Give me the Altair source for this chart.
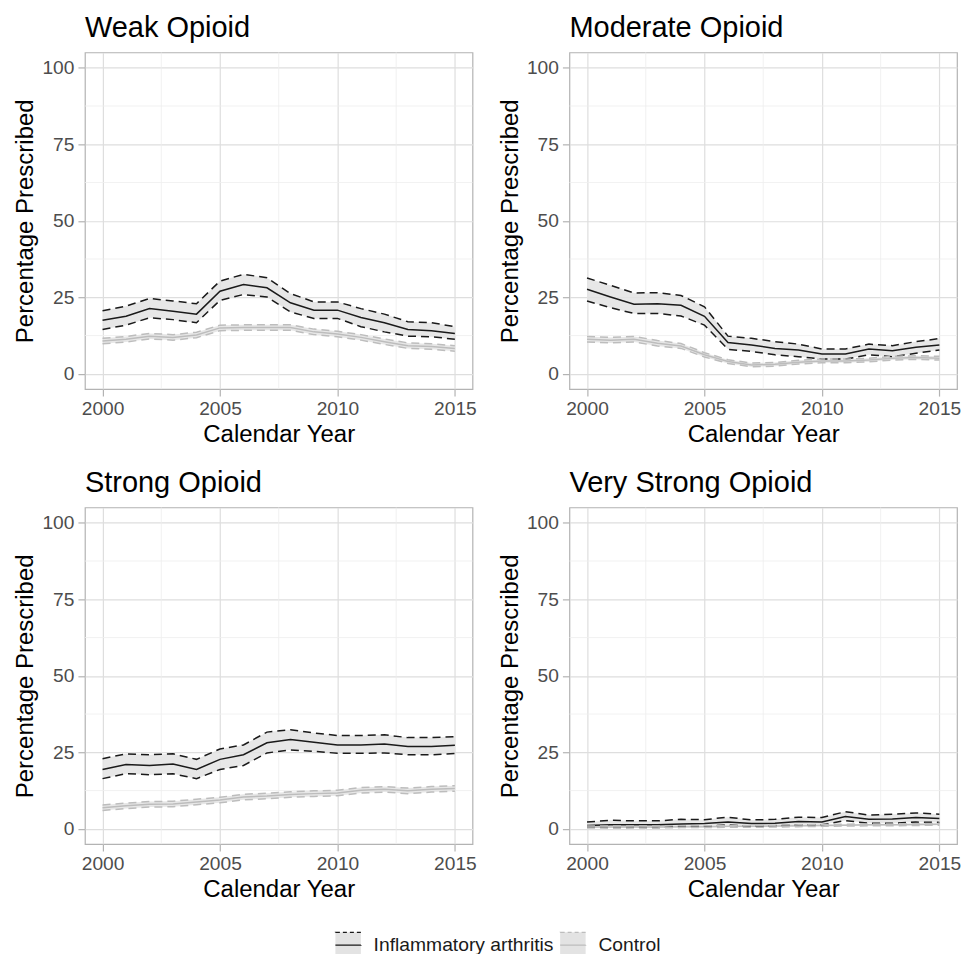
import altair as alt
import pandas as pd

YEARS = list(range(2000, 2016))
PANELS = ["Weak Opioid", "Moderate Opioid", "Strong Opioid", "Very Strong Opioid"]
GROUPS = ["Inflammatory arthritis", "Control"]
X_TICKS = [2000, 2005, 2010, 2015]
Y_TICKS = [0, 25, 50, 75, 100]
X_MINOR = [2002.5, 2007.5, 2012.5]
Y_MINOR = [12.5, 37.5, 62.5, 87.5]

# Weak opioid
ia_weak_mean = [17.5, 18.8, 21.3, 20.4, 19.5, 27.0, 29.2, 28.1, 23.2, 20.8, 20.8, 18.4, 16.7, 14.5, 14.1, 13.2]
ia_weak_hi = [20.6, 22.1, 24.6, 23.8, 22.9, 30.3, 32.5, 31.4, 26.2, 23.5, 23.5, 21.3, 19.5, 17.0, 16.7, 15.4]
ia_weak_lo = [14.5, 15.9, 18.3, 17.7, 16.7, 24.0, 25.9, 25.1, 20.2, 18.1, 18.1, 15.4, 13.7, 12.3, 12.1, 11.3]
ct_weak_mean = [10.7, 11.3, 12.3, 11.9, 12.7, 15.0, 15.1, 15.1, 15.1, 13.7, 13.0, 11.9, 10.5, 9.2, 8.9, 8.3]
ct_weak_hi = [11.6, 12.2, 13.2, 12.8, 13.6, 15.9, 16.0, 16.0, 16.0, 14.6, 13.9, 12.8, 11.4, 10.1, 9.8, 9.2]
ct_weak_lo = [9.8, 10.4, 11.4, 11.0, 11.8, 14.1, 14.2, 14.2, 14.2, 12.8, 12.1, 11.0, 9.6, 8.3, 8.0, 7.4]

# Moderate opioid
ia_mod_mean = [27.6, 25.1, 22.7, 22.9, 22.4, 18.8, 10.2, 9.4, 8.3, 7.8, 6.5, 6.5, 8.1, 7.5, 8.7, 9.4]
ia_mod_hi = [31.3, 28.9, 26.4, 26.5, 25.6, 21.9, 12.3, 11.6, 10.5, 9.7, 8.1, 8.1, 9.7, 9.2, 10.5, 11.5]
ia_mod_lo = [23.8, 21.6, 19.7, 19.7, 18.9, 15.9, 8.0, 7.3, 6.2, 5.6, 4.8, 4.8, 6.2, 5.6, 6.7, 7.8]
ct_mod_mean = [11.3, 11.0, 11.3, 10.0, 9.1, 6.2, 4.0, 2.9, 3.1, 3.8, 4.2, 4.2, 4.5, 5.1, 5.3, 5.1]
ct_mod_hi = [12.2, 11.9, 12.2, 10.9, 9.9, 6.9, 4.6, 3.5, 3.7, 4.4, 4.8, 4.8, 5.1, 5.7, 5.9, 5.7]
ct_mod_lo = [10.4, 10.1, 10.4, 9.1, 8.3, 5.5, 3.4, 2.3, 2.5, 3.2, 3.6, 3.6, 3.9, 4.5, 4.7, 4.5]

# Strong opioid
ia_str_mean = [19.4, 21.0, 20.7, 21.2, 19.4, 22.7, 24.2, 28.1, 29.2, 28.3, 27.4, 27.4, 27.7, 26.9, 26.9, 27.3]
ia_str_hi = [22.9, 24.5, 24.2, 24.5, 22.7, 26.1, 27.4, 31.6, 32.4, 31.3, 30.5, 30.5, 30.7, 29.8, 29.8, 30.1]
ia_str_lo = [16.4, 18.0, 17.7, 18.0, 16.4, 19.4, 20.7, 24.8, 25.8, 25.3, 24.7, 24.7, 24.8, 24.2, 24.2, 24.6]
ct_str_mean = [6.9, 7.5, 8.0, 8.1, 8.8, 9.4, 10.4, 10.7, 11.2, 11.5, 11.7, 12.6, 12.9, 12.4, 12.9, 13.2]
ct_str_hi = [7.8, 8.4, 8.9, 9.0, 9.7, 10.3, 11.3, 11.6, 12.1, 12.4, 12.6, 13.5, 13.8, 13.3, 13.8, 14.1]
ct_str_lo = [6.0, 6.6, 7.1, 7.2, 7.9, 8.5, 9.5, 9.8, 10.3, 10.6, 10.8, 11.7, 12.0, 11.5, 12.0, 12.3]

# Very strong opioid
ia_vs_mean = [1.1, 1.3, 1.3, 1.3, 1.6, 1.7, 2.2, 1.7, 1.8, 2.4, 2.2, 4.0, 3.1, 3.2, 3.7, 3.4]
ia_vs_hi = [2.2, 2.8, 2.6, 2.6, 3.1, 3.0, 3.8, 2.9, 3.1, 3.8, 3.7, 5.6, 4.5, 4.8, 5.2, 4.8]
ia_vs_lo = [0.6, 0.4, 0.5, 0.4, 0.8, 0.8, 1.3, 0.8, 1.0, 1.3, 1.3, 2.7, 1.8, 1.8, 2.2, 2.1]
ct_vs_mean = [0.6, 0.6, 0.6, 0.6, 0.7, 0.7, 0.8, 0.8, 0.9, 1.0, 1.1, 1.2, 1.3, 1.3, 1.4, 1.5]
ct_vs_hi = [0.9, 0.9, 0.9, 0.9, 1.0, 1.0, 1.1, 1.1, 1.2, 1.3, 1.4, 1.5, 1.6, 1.6, 1.7, 1.8]
ct_vs_lo = [0.3, 0.3, 0.3, 0.3, 0.4, 0.4, 0.5, 0.5, 0.6, 0.7, 0.8, 0.9, 1.0, 1.0, 1.1, 1.2]

series = {
    ("Weak Opioid", "Inflammatory arthritis"): (ia_weak_mean, ia_weak_lo, ia_weak_hi),
    ("Weak Opioid", "Control"): (ct_weak_mean, ct_weak_lo, ct_weak_hi),
    ("Moderate Opioid", "Inflammatory arthritis"): (ia_mod_mean, ia_mod_lo, ia_mod_hi),
    ("Moderate Opioid", "Control"): (ct_mod_mean, ct_mod_lo, ct_mod_hi),
    ("Strong Opioid", "Inflammatory arthritis"): (ia_str_mean, ia_str_lo, ia_str_hi),
    ("Strong Opioid", "Control"): (ct_str_mean, ct_str_lo, ct_str_hi),
    ("Very Strong Opioid", "Inflammatory arthritis"): (ia_vs_mean, ia_vs_lo, ia_vs_hi),
    ("Very Strong Opioid", "Control"): (ct_vs_mean, ct_vs_lo, ct_vs_hi),
}

rows = []
for (panel_name, group), (m, lo, hi) in series.items():
    for yr, a, b, c in zip(YEARS, m, lo, hi):
        rows.append(dict(panel=panel_name, group=group, year=yr, mean=a, lo=b, hi=c))
df = pd.DataFrame(rows)

FONT = "Liberation Sans"
W, H = 388, 337

xscale = alt.Scale(domain=[1999.25, 2015.75], nice=False, zero=False)
yscale = alt.Scale(domain=[-5, 105], nice=False, zero=False)
fill_scale = alt.Scale(domain=GROUPS, range=["#e3e3e3", "#e3e3e3"])
stroke_scale = alt.Scale(domain=GROUPS, range=["#1a1a1a", "#bdbdbd"])

# key drawn as one subpath: solid middle line, dashed top and bottom edges
KEY_PATH = "M-1,0H1V-1H-1V1H1V0"
KEY_DASH = [25.5, 12.75, 4, 3, 4, 3, 4, 3, 4.5, 25.5, 4, 3, 4, 3, 4, 3, 4.5, 112.75]

legend = alt.Legend(
    title=None, orient="none", legendX=250, legendY=880, direction="horizontal",
    symbolType=KEY_PATH, symbolSize=650, symbolStrokeWidth=1.3,
    symbolDash=KEY_DASH, symbolOpacity=1, labelFontSize=19.3, labelFont=FONT,
    labelColor="#1a1a1a", labelLimit=400, labelOffset=12, columnPadding=4,
)

xaxis = alt.Axis(values=X_TICKS, format="d", title="Calendar Year")
yaxis = alt.Axis(values=Y_TICKS, title="Percentage Prescribed")


def panel(name):
    d = df[df.panel == name]
    base = alt.Chart(d)
    x = alt.X("year:Q", scale=xscale, axis=xaxis)
    xminor = alt.Chart(pd.DataFrame({"v": X_MINOR})).mark_rule(
        stroke="#ededed", strokeWidth=0.8
    ).encode(x=alt.X("v:Q", scale=xscale, axis=xaxis))
    yminor = alt.Chart(pd.DataFrame({"v": Y_MINOR})).mark_rule(
        stroke="#ededed", strokeWidth=0.8
    ).encode(y=alt.Y("v:Q", scale=yscale, axis=yaxis))
    ribbon = base.mark_area(opacity=0.85).encode(
        x=x,
        y=alt.Y("lo:Q", scale=yscale, axis=yaxis),
        y2="hi:Q",
        fill=alt.Fill("group:N", scale=fill_scale, legend=legend),
    )
    mean = base.mark_line(strokeWidth=1.5).encode(
        x=x, y=alt.Y("mean:Q", scale=yscale, axis=yaxis),
        stroke=alt.Stroke("group:N", scale=stroke_scale, legend=legend),
    )
    lo = base.mark_line(strokeWidth=1.5, strokeDash=[8, 5]).encode(
        x=x, y=alt.Y("lo:Q", scale=yscale, axis=yaxis),
        stroke=alt.Stroke("group:N", scale=stroke_scale, legend=legend),
    )
    hi = base.mark_line(strokeWidth=1.5, strokeDash=[8, 5]).encode(
        x=x, y=alt.Y("hi:Q", scale=yscale, axis=yaxis),
        stroke=alt.Stroke("group:N", scale=stroke_scale, legend=legend),
    )
    return alt.layer(xminor, yminor, ribbon, mean, lo, hi).properties(
        width=W, height=H,
        title=alt.TitleParams(name, anchor="start", frame="group", offset=9),
    )


top = alt.hconcat(panel(PANELS[0]), panel(PANELS[1]), spacing=20)
bottom = alt.hconcat(panel(PANELS[2]), panel(PANELS[3]), spacing=20)
chart = alt.vconcat(top, bottom, spacing=21.5).configure(
    font=FONT, padding={"left": 5, "top": 5, "right": 0, "bottom": 0}
).configure_view(
    stroke="#b3b3b3", strokeWidth=1.2
).configure_axis(
    domain=False, tickColor="#b3b3b3", tickSize=7, tickWidth=1.2,
    labelFontSize=19.2, labelColor="#4d4d4d", labelFont=FONT,
    titleFont=FONT, titleFontSize=24, titleFontWeight="normal", titleColor="black",
    gridColor="#dedede", gridWidth=1.2,
).configure_axisX(labelPadding=3, titlePadding=4).configure_axisY(
    labelPadding=4, titlePadding=4
).configure_title(
    font=FONT, fontSize=29, fontWeight="normal", color="black"
)

chart.save("out.html", embed_options={"renderer": "svg", "actions": False})
